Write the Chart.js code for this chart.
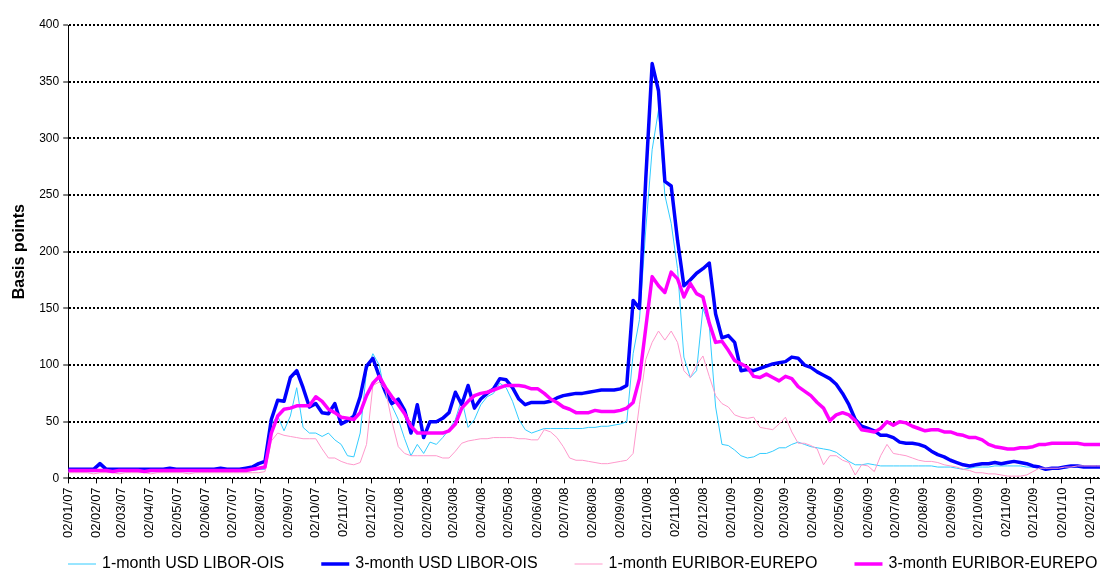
<!DOCTYPE html>
<html>
<head>
<meta charset="utf-8">
<title>LIBOR-OIS and EURIBOR-EUREPO spreads</title>
<script src="https://cdn.jsdelivr.net/npm/chart.js@4.4.1/dist/chart.umd.min.js"></script>
<style>
  html, body { margin: 0; padding: 0; background: #fff; overflow: hidden; }
  #wrap { width: 1100px; height: 572px; overflow: hidden; }
</style>
</head>
<body>
<div id="wrap">
  <canvas id="spreads-chart" width="1130" height="572"></canvas>
</div>
<script>
// weekly readings, first one on 2 Jan 2007 (basis points)
const usd1m = [
  6,6,6,6,6,7,6,6,6,6,6,6,6,6,6,6,6,6,6,6,6,6,6,6,6,6,
  6,6,7,7,8,8,
  48,55,42,55,80,45,40,40,37,40,34,30,20,19,40,95,110,100,72,64,52,35,20,30,22,32,
  30,36,43,52,70,45,52,65,72,75,84,80,68,52,43,40,42,44,44,44,44,44,44,44,45,45,46,
  46,47,48,50,110,140,220,290,325,250,225,185,107,89,95,150,135,63,30,29,25,20,18,
  19,22,22,24,27,27,30,32,30,28,27,26,25,23,19,15,12,12,13,12,11,11,11,11,11,11,11,
  11,11,10,10,10,9,8,9,10,10,10,11,11,11,11,11,10,10,9,9,9,9,9,10,10,10,10,10,10
];
const usd3m = [
  8,8,8,8,8,13,8,8,8,8,8,8,8,8,8,8,9,8,8,8,8,8,8,8,9,8,
  8,8,9,10,13,15,
  52,69,68,89,95,80,63,66,58,57,66,48,51,55,72,99,106,90,76,66,70,60,40,65,36,50,
  50,53,58,76,65,82,62,70,75,79,88,87,80,70,65,67,67,67,68,71,73,74,75,75,76,77,78,
  78,78,79,82,157,150,265,366,342,262,258,210,170,175,181,185,190,145,124,126,120,95,96,
  95,97,99,101,102,103,107,106,100,98,94,91,88,83,75,65,52,46,44,42,38,38,36,32,31,31,30,
  28,24,21,19,16,14,12,11,12,13,13,14,13,14,15,14,13,11,10,8,9,9,10,11,11,10,10,10,10
];
const eur1m = [
  5,5,5,5,4,5,5,5,4,5,5,5,5,4,5,5,5,5,5,4,5,5,5,5,5,5,
  5,5,5,5,5,6,
  33,40,38,37,36,35,35,35,26,18,18,15,13,12,14,30,82,85,78,50,28,22,20,20,20,20,
  20,18,18,24,31,33,34,35,35,36,36,36,36,35,35,34,34,43,41,36,28,18,16,16,15,14,13,
  13,14,15,16,22,65,105,120,130,122,130,120,95,89,100,108,90,73,66,63,56,54,53,
  54,45,44,43,48,54,41,31,31,29,26,12,20,20,16,14,3,12,11,6,20,30,22,21,20,18,16,
  15,15,14,12,11,10,8,7,5,5,4,4,3,2,2,2,3,6,9,9,9,9,10,10,11,11,11,11,11
];
const eur3m = [
  7,7,7,7,7,7,7,6,7,7,7,7,6,7,7,7,7,7,7,7,7,7,7,7,7,7,
  7,7,7,8,9,10,
  40,55,61,62,64,64,64,72,68,61,58,54,53,52,58,73,84,90,80,72,65,57,46,40,40,40,
  40,40,42,48,62,68,73,75,76,78,80,82,82,82,81,79,79,75,70,67,63,61,58,58,58,60,59,
  59,59,60,62,67,88,133,178,170,164,182,176,160,172,163,160,137,120,121,113,104,101,98,
  90,89,92,89,86,90,88,81,77,73,67,62,51,56,58,56,51,43,42,41,44,50,47,50,49,46,44,
  42,43,43,41,41,39,38,36,36,34,30,28,27,26,26,27,27,28,30,30,31,31,31,31,31,30,30,30,30
];

const seriesNames = [
  "1-month USD LIBOR-OIS",
  "3-month USD LIBOR-OIS",
  "1-month EURIBOR-EUREPO",
  "3-month EURIBOR-EUREPO"
];

const tickLabels = [
  "02/01/07","02/02/07","02/03/07","02/04/07","02/05/07","02/06/07",
  "02/07/07","02/08/07","02/09/07","02/10/07","02/11/07","02/12/07",
  "02/01/08","02/02/08","02/03/08","02/04/08","02/05/08","02/06/08",
  "02/07/08","02/08/08","02/09/08","02/10/08","02/11/08","02/12/08",
  "02/01/09","02/02/09","02/03/09","02/04/09","02/05/09","02/06/09",
  "02/07/09","02/08/09","02/09/09","02/10/09","02/11/09","02/12/09",
  "02/01/10","02/02/10"
];

const DAY = 86400000;
const start = Date.UTC(2007, 0, 2);

// x positions are days since 2 Jan 2007
function dayOf(label) {
  const [d, m, y] = label.split("/").map(Number);
  return Math.round((Date.UTC(2000 + y, m - 1, d) - start) / DAY);
}
const tickDays = tickLabels.map(dayOf);
const weekDays = usd1m.map((_, i) => i * 7);

const toPoints = (arr) => arr.map((v, i) => ({ x: weekDays[i], y: v }));

const FONT = '"Liberation Sans", Arial, sans-serif';

// legend drawn under the axis, line sample + text, left to right
const bottomLegend = {
  id: "bottomLegend",
  afterDraw(chart) {
    const ctx = chart.ctx;
    ctx.save();
    ctx.font = "16px " + FONT;
    ctx.textBaseline = "middle";
    const y = chart.height - 8;
    let x = 68;
    chart.data.datasets.forEach((ds) => {
      ctx.strokeStyle = ds.borderColor;
      ctx.lineWidth = ds.borderWidth;
      ctx.beginPath();
      ctx.moveTo(x, y);
      ctx.lineTo(x + 28, y);
      ctx.stroke();
      ctx.fillStyle = "#000";
      ctx.fillText(ds.label, x + 34, y);
      x += 34 + ctx.measureText(ds.label).width + 37;
    });
    ctx.restore();
  }
};

const chartConfig = {
  type: "line",
  data: {
    datasets: [
      { label: seriesNames[0], data: toPoints(usd1m), borderColor: "#33CCFF", borderWidth: 1, order: 4 },
      { label: seriesNames[1], data: toPoints(usd3m), borderColor: "#0000FF", borderWidth: 3.5, order: 3 },
      { label: seriesNames[2], data: toPoints(eur1m), borderColor: "#FF99CC", borderWidth: 1, order: 2 },
      { label: seriesNames[3], data: toPoints(eur3m), borderColor: "#FF00FF", borderWidth: 3.5, order: 1 }
    ]
  },
  options: {
    responsive: false,
    animation: false,
    layout: { padding: { left: 10, top: 25, right: 0, bottom: 30 } },
    elements: {
      point: { radius: 0, hoverRadius: 0 },
      line: { tension: 0, fill: false, borderJoinStyle: "round" }
    },
    plugins: {
      legend: { display: false },
      tooltip: { enabled: false }
    },
    scales: {
      x: {
        type: "linear",
        min: 0,
        max: 1171,
        afterBuildTicks: (axis) => {
          axis.ticks = tickDays.map((v) => ({ value: v }));
        },
        ticks: {
          autoSkip: false,
          minRotation: 90,
          maxRotation: 90,
          padding: 4,
          color: "#000",
          font: { family: FONT, size: 13 },
          callback: (value, index) => tickLabels[index]
        },
        grid: {
          drawOnChartArea: false,
          drawTicks: true,
          tickLength: 5,
          color: "#000",
          tickWidth: 1
        },
        border: { display: true, color: "#000", width: 1 }
      },
      y: {
        min: 0,
        max: 400,
        ticks: {
          stepSize: 50,
          padding: 4,
          color: "#000",
          font: { family: FONT, size: 12 }
        },
        grid: {
          color: "#000",
          lineWidth: 2,
          tickLength: 5,
          tickWidth: 1,
          tickBorderDash: []
        },
        border: { display: true, color: "#000", width: 1, dash: [2, 2] },
        title: {
          display: true,
          text: "Basis points",
          color: "#000",
          font: { family: FONT, size: 16, weight: "bold" },
          padding: { top: 0, bottom: 6 }
        }
      }
    }
  },
  plugins: [bottomLegend]
};

new Chart(document.getElementById("spreads-chart"), chartConfig);
</script>
</body>
</html>
